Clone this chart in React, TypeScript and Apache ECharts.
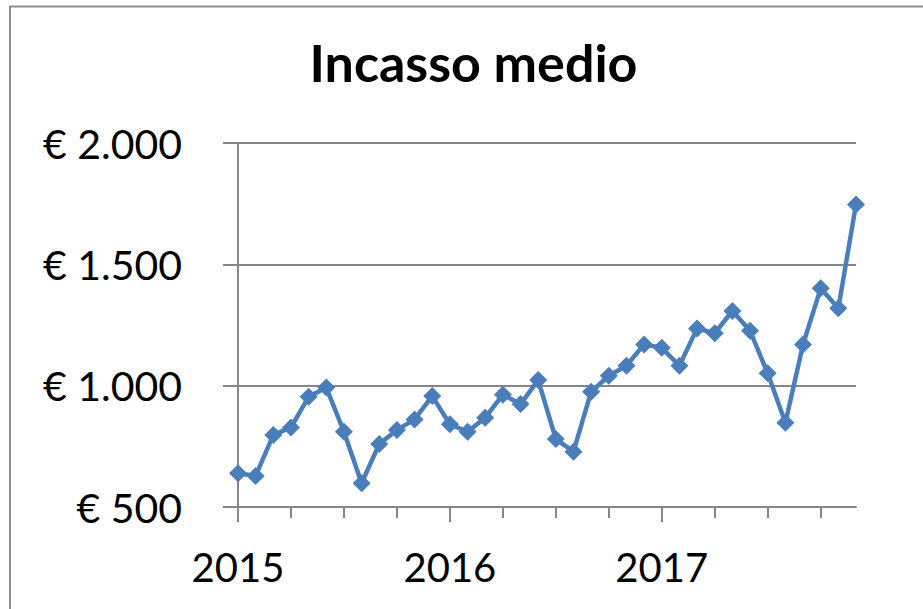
import React, { useEffect, useRef } from "react";
import * as echarts from "echarts";

const years = ["2015", "2016", "2017"];
const months = ["gen", "feb", "mar", "apr", "mag", "giu", "lug", "ago", "set", "ott", "nov", "dic"];
const incasso = [
  639, 628, 797, 828, 954, 992, 810, 598, 760, 817, 861, 957,
  841, 810, 868, 963, 924, 1023, 780, 728, 975, 1041, 1082, 1170,
  1156, 1082, 1236, 1216, 1308, 1226, 1051, 847, 1170, 1401, 1319, 1747,
];
const titleText = "Incasso medio";

const formatEuro = (v: number) => {
  const s = String(Math.round(v));
  return "€ " + s.replace(/\B(?=(\d{3})+(?!\d))/g, ".");
};

export default function App() {
  const ref = useRef<HTMLDivElement>(null);
  useEffect(() => {
    if (!ref.current) return;
    const chart = echarts.init(ref.current, undefined, { renderer: "svg" });
    const categories = years.flatMap((y) => months.map((m) => `${m} ${y}`));
    const gray = "#868686";
    chart.setOption({
      animation: false,
      backgroundColor: "#ffffff",
      graphic: [
        {
          type: "rect",
          shape: { x: 10, y: 6.5, width: 1000, height: 1000 },
          style: { fill: "none", stroke: "#8c8c8c", lineWidth: 2 },
          silent: true,
        },
        {
          type: "text",
          x: 473.5,
          y: 62,
          style: {
            text: titleText,
            font: "bold 52px Lato",
            fill: "#000000",
            textAlign: "center",
            textVerticalAlign: "middle",
          },
        },
      ],
      grid: { left: 238, right: 67, top: 143, bottom: 102, containLabel: false },
      xAxis: [
        {
          type: "category",
          data: categories,
          boundaryGap: false,
          position: "bottom",
          axisLine: { show: true, lineStyle: { color: gray, width: 2 } },
          axisTick: { show: true, interval: 2, length: 11, lineStyle: { color: gray, width: 2 } },
          axisLabel: { show: false },
          splitLine: { show: false },
          z: 3,
        },
        {
          type: "category",
          data: categories,
          boundaryGap: false,
          position: "bottom",
          axisLine: { show: false },
          axisTick: { show: true, interval: 11, length: 15, lineStyle: { color: gray, width: 2 } },
          axisLabel: {
            show: true,
            interval: 11,
            margin: 40,
            fontFamily: "Lato",
            fontSize: 40,
            color: "#000000",
            formatter: (v: string) => v.split(" ")[1],
          },
          splitLine: { show: false },
          z: 3,
        },
      ],
      yAxis: {
        type: "value",
        min: 500,
        max: 2000,
        interval: 500,
        axisLine: { show: true, lineStyle: { color: gray, width: 2 } },
        axisTick: { show: true, length: 15, lineStyle: { color: gray, width: 2 } },
        axisLabel: {
          margin: 56,
          fontFamily: "Lato",
          fontSize: 41,
          color: "#000000",
          formatter: (v: number) => formatEuro(v),
        },
        splitLine: { show: true, lineStyle: { color: gray, width: 2 } },
      },
      series: [
        {
          type: "line",
          data: incasso,
          xAxisIndex: 0,
          symbol: "diamond",
          symbolSize: 18,
          showSymbol: true,
          showAllSymbol: true,
          lineStyle: { color: "#4A7EBB", width: 4.5 },
          itemStyle: { color: "#4A7EBB" },
          z: 5,
        },
      ],
    });
    return () => chart.dispose();
  }, []);
  return (
    <div
      ref={ref}
      style={{ position: "absolute", left: 0, top: 0, width: 923, height: 609, background: "#fff" }}
    />
  );
}
